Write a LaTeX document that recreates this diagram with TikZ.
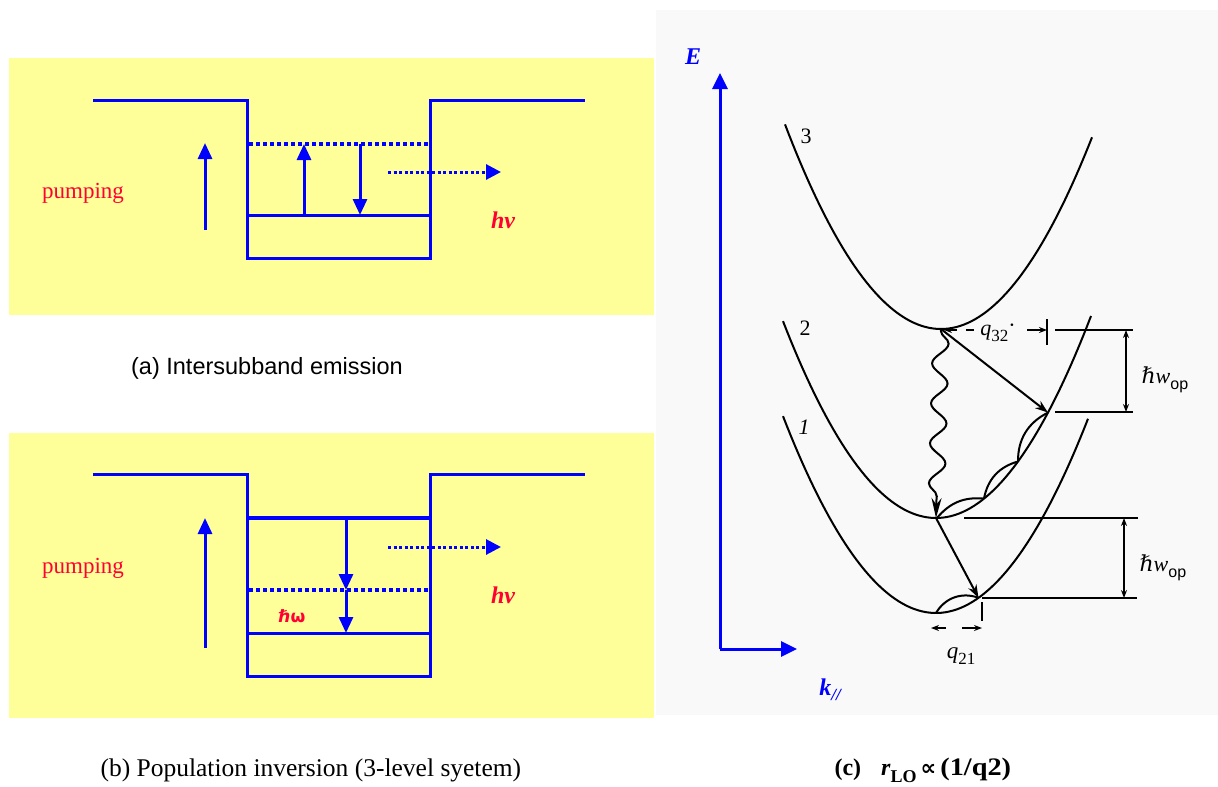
\documentclass[tikz,border=0pt]{standalone}
\usepackage{graphicx}
\usepackage{fontspec}
\setmainfont{Liberation Serif}
\setsansfont{Liberation Sans}
\newfontfamily\dejavu{DejaVu Sans}
\newfontfamily\dejaserif{DejaVu Serif}
\newcommand\lowsub[2][15]{\raisebox{-0.28em}{\fontsize{#1}{#1}\selectfont #2}}
\usetikzlibrary{arrows.meta,decorations.pathmorphing}
\definecolor{qyellow}{RGB}{255,255,153}
\definecolor{qblue}{RGB}{0,0,255}
\definecolor{qred}{RGB}{255,0,51}
\definecolor{scan}{RGB}{249,249,249}
\begin{document}
\begin{tikzpicture}[x=1pt,y=-1pt,
  well/.style={qblue,line width=3pt},
  dotlevel/.style={qblue,line width=4pt,dash pattern=on 4pt off 3pt},
  barrow/.style={qblue,line width=3pt,-{Triangle[length=16pt,width=14pt]}},
  dotarrow/.style={qblue,line width=3pt,dash pattern=on 3pt off 2.5pt,-{Triangle[length=15pt,width=15pt]}},
  axisarrow/.style={qblue,line width=3pt,-{Triangle[length=16pt,width=15pt]}},
  pumptext/.style={qred,font=\fontsize{23}{26}\selectfont},
  hvtext/.style={qred,font=\fontsize{24}{26}\selectfont\bfseries\itshape},
  curve/.style={black,line width=2pt},
  karrow/.style={black,line width=2pt,-{Stealth[length=13pt,width=9pt]}},
  dimarrow/.style={black,line width=1.6pt,{Stealth[length=8pt,width=6pt]}-{Stealth[length=8pt,width=6pt]}},
  level/.style={black,line width=2pt},
  scantext/.style={black,font=\fontsize{22}{24}\selectfont},
  caption/.style={font=\fontsize{24}{28}\selectfont}
]
\useasboundingbox (0,0) rectangle (1218,787);
\fill[white] (0,0) rectangle (1218,787);
\fill[scan] (656,10) rectangle (1218,715);

% ---------------- panel (a)
\fill[qyellow] (9,58) rectangle (654,315);
\draw[well] (93,100) -- (247,100) -- (247,258) -- (430,258) -- (430,100) -- (585,100);
\draw[dotlevel] (249,143.5) -- (430,143.5);
\draw[well] (247,215) -- (430,215);
\coordinate (a-pumpS) at (205,230);
\coordinate (a-pumpE) at (205,143);
\coordinate (a-upS) at (304,215);
\coordinate (a-upE) at (304,144);
\coordinate (a-dnS) at (360,144);
\coordinate (a-dnE) at (360,215);
\coordinate (a-hvS) at (388,172);
\coordinate (a-hvE) at (501,172);
\draw[barrow] (a-pumpS) -- (a-pumpE);
\draw[barrow] (a-upS) -- (a-upE);
\draw[barrow] (a-dnS) -- (a-dnE);
\draw[dotarrow] (a-hvS) -- (a-hvE);
\node[pumptext] (a-pump) at (83,193) {pumping};
\node[hvtext] (a-hv) at (503,220) {hv};
\node[caption,font=\sffamily\fontsize{23.5}{28}\selectfont] (a-cap) at (267,368) {(a) Intersubband emission};

% ---------------- panel (b)
\fill[qyellow] (9,433) rectangle (654,718);
\draw[well] (93,474) -- (247,474) -- (247,676) -- (430,676) -- (430,474) -- (585,474);
\draw[qblue,line width=4.5pt] (247,518) -- (430,518);
\draw[dotlevel] (249,590) -- (430,590);
\draw[well] (247,633) -- (430,633);
\coordinate (b-pumpS) at (205,648);
\coordinate (b-pumpE) at (205,518);
\coordinate (b-dn0) at (346,520);
\coordinate (b-dn1) at (346,590);
\coordinate (b-dn2) at (346,633);
\coordinate (b-hvS) at (388,547);
\coordinate (b-hvE) at (501,547);
\draw[barrow] (b-pumpS) -- (b-pumpE);
\draw[barrow] (b-dn0) -- (b-dn1);
\draw[barrow] (b-dn1) -- (b-dn2);
\draw[dotarrow] (b-hvS) -- (b-hvE);
\node[pumptext] (b-pump) at (83,568) {pumping};
\node[hvtext] (b-hv) at (503,595) {hv};
\node[qred,font=\dejavu\bfseries\fontsize{17}{20}\selectfont] (b-hw) at (292,616) {ℏω};
\node[caption,anchor=west,font=\fontsize{25.5}{28}\selectfont] (b-cap) at (97,770) {(b) Population inversion (3-level syetem)};

% ---------------- panel (c)
\coordinate (c-origin) at (720,649);
\coordinate (c-Etop) at (720,73);
\coordinate (c-kend) at (797,649);
\draw[axisarrow] (c-origin) -- (c-Etop);
\draw[axisarrow] (c-origin) -- (c-kend);
\node[qblue,font=\fontsize{24}{26}\selectfont\bfseries\itshape] (c-E) at (693,57) {E};
\node[qblue,font=\fontsize{24}{26}\selectfont\bfseries\itshape] (c-k) at (830,690) {k\raisebox{-5pt}{\fontsize{17}{18}\selectfont//}};

% subbands
\draw[curve] plot[domain=-156:151,samples=80] ({941+\x},{329-0.0084*(\x)*(\x)});
\draw[curve] plot[domain=-153:155,samples=80] ({936+\x},{518-0.0084*(\x)*(\x)});
\draw[curve] plot[domain=-153:152,samples=80] ({936+\x},{613-0.0084*(\x)*(\x)});
\node[scantext] (c-n3) at (806,136) {3};
\node[scantext] (c-n2) at (805,328) {2};
\node[scantext] (c-n1) at (804,427) {\itshape 1};

% key points
\coordinate (m3) at (941,329);
\coordinate (m2) at (936,518);
\coordinate (m1) at (936,613);
\coordinate (p2a) at (1048,412.6);
\coordinate (p2b) at (1018,461.5);
\coordinate (p2c) at (984,498.6);
\coordinate (p2d) at (937,518);
\coordinate (p1a) at (978.5,597.8);

% transitions
\draw[karrow] (m3) -- (p2a);
\draw[karrow] (m2) -- (p1a);
\draw[black,line width=2pt,decorate,decoration={snake,amplitude=8pt,segment length=40pt,pre length=2pt,post length=16pt},-{Stealth[length=20pt,width=10pt]}] (m3) -- (m2);

% phonon cascade lenses
\draw[curve] (p2a) to[bend right=32] (p2b);
\draw[curve] (p2b) to[bend right=32] (p2c);
\draw[curve] (p2c) to[bend right=28] (p2d);
\draw[curve] (m1) to[bend left=40] (p1a);

% level lines
\coordinate (l1a) at (1055,330); \coordinate (l1b) at (1133,330);
\coordinate (l2a) at (1055,412); \coordinate (l2b) at (1133,412);
\coordinate (l3a) at (964,518);  \coordinate (l3b) at (1138,518);
\coordinate (l4a) at (982,598);  \coordinate (l4b) at (1137,598);
\draw[level] (l1a) -- (l1b);
\draw[level] (l2a) -- (l2b);
\draw[level] (l3a) -- (l3b);
\draw[level] (l4a) -- (l4b);
\coordinate (d1a) at (1126,330); \coordinate (d1b) at (1126,412);
\coordinate (d2a) at (1124,518); \coordinate (d2b) at (1124,598);
\draw[dimarrow] (d1a) -- (d1b);
\draw[dimarrow] (d2a) -- (d2b);
\node[scantext,anchor=west] (c-hw1) at (1138,380) {{\dejaserif ℏ}\textit{w}\lowsub[16]{\sffamily op}};
\node[scantext,anchor=west] (c-hw2) at (1136,568) {{\dejaserif ℏ}\textit{w}\lowsub[16]{\sffamily op}};

% q32 dimension
\coordinate (q32s) at (957,330); \coordinate (q32l) at (944,330);
\coordinate (q32d1) at (966,330); \coordinate (q32d2) at (974,330);
\coordinate (q32r) at (1027,330); \coordinate (q32e) at (1047,330);
\coordinate (q32t1) at (1047,319); \coordinate (q32t2) at (1047,345);
\draw[black,line width=1.6pt,-{Stealth[length=8pt,width=6pt]}] (q32s) -- (q32l);
\draw[black,line width=1.6pt] (q32d1) -- (q32d2);
\draw[black,line width=1.6pt,-{Stealth[length=8pt,width=6pt]}] (q32r) -- (q32e);
\draw[black,line width=1.6pt] (q32t1) -- (q32t2);
\node[scantext] (c-q32) at (998,333) {\textit{q}\lowsub[17]{32}\raisebox{3pt}{·}};

% q21 dimension
\coordinate (q21t1) at (982,602); \coordinate (q21t2) at (982,621);
\coordinate (q21ls) at (946,628); \coordinate (q21le) at (931,628);
\coordinate (q21rs) at (962,628); \coordinate (q21re) at (982,628);
\draw[black,line width=1.6pt] (q21t1) -- (q21t2);
\draw[black,line width=1.6pt,-{Stealth[length=8pt,width=6pt]}] (q21ls) -- (q21le);
\draw[black,line width=1.6pt,-{Stealth[length=8pt,width=6pt]}] (q21rs) -- (q21re);
\node[scantext,font=\fontsize{23}{24}\selectfont] (c-q21) at (961,656) {\textit{q}\lowsub[17]{21}};

\node[caption,anchor=west] (c-cap) at (831,770) {\bfseries (c)\hspace{20pt}\textit{r}\lowsub[18]{LO}\,{\dejavu\bfseries\fontsize{22}{24}\selectfont ∝}\,\scalebox{1.18}[1.05]{(1/q2)}};
\end{tikzpicture}
\end{document}
